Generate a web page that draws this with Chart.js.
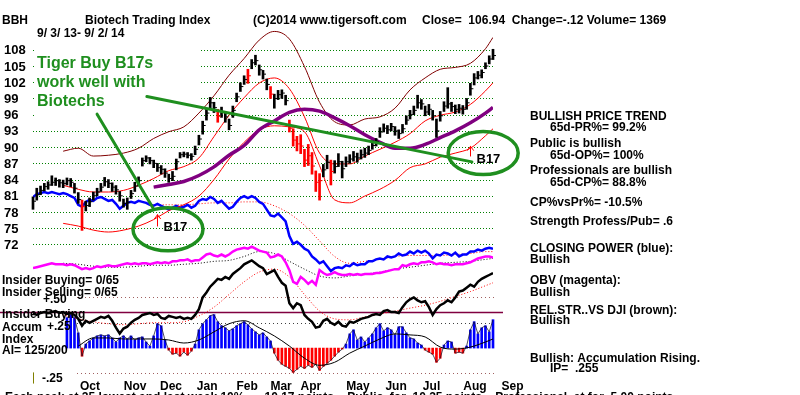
<!DOCTYPE html>
<html><head><meta charset="utf-8">
<script src="https://cdn.jsdelivr.net/npm/chart.js@4.4.0/dist/chart.umd.min.js"></script>
<style>html,body{margin:0;padding:0;background:#fff;overflow:hidden}canvas{display:block}</style>
</head><body>
<canvas id="c" width="800" height="395"></canvas>
<script>
// ---------- DATA ----------
const priceTicks = [72,75,78,81,84,87,90,93,96,99,102,105,108];
const monthLabels = ['Oct','Nov','Dec','Jan','Feb','Mar','Apr','May','Jun','Jul','Aug','Sep'];
const monthIdx = [15.1,27.1,36.6,46.2,56.8,65.8,73.7,86.2,96.3,105.7,117.2,127.2];

const closes = [80.0,81.2,82.0,82.7,83.0,83.5,83.8,83.4,83.3,83.8,
 83.5,82.4,80.3,79.0,79.2,79.9,81.0,81.7,82.6,83.6,
 83.3,82.6,82.1,81.0,79.6,79.8,81.4,82.8,83.8,87.5,
 88.0,87.5,87.0,86.2,85.9,85.2,84.2,84.6,87.3,88.6,
 88.7,88.5,88.3,89.6,91.5,94.0,96.3,98.2,97.3,95.7,
 96.4,95.6,94.0,96.8,99.3,101.2,102.5,103.2,105.6,106.0,
 104.3,103.5,101.6,99.8,99.0,99.7,100.0,98.6,93.5,91.3,
 90.6,90.2,87.6,88.4,86.5,83.5,83.8,85.8,87.2,85.5,
 86.4,87.3,86.0,87.3,87.8,88.2,88.0,88.6,88.9,89.4,
 90.3,91.0,92.8,93.5,93.2,93.8,93.0,92.5,93.4,95.0,
 96.0,96.8,98.2,98.0,96.5,97.0,95.8,93.0,95.8,97.6,
 98.0,97.5,97.0,97.2,97.0,98.2,100.8,102.8,103.3,103.8,
 105.0,106.3,106.94];
const highs = [80.8,82.4,82.8,83.3,83.6,84.7,84.3,84.0,83.9,84.3,
 84.2,83.3,81.6,80.2,80.0,80.6,81.7,82.4,83.3,84.4,
 84.0,83.4,82.9,81.8,80.4,80.6,82.0,83.5,84.5,88.0,
 88.4,88.1,87.6,87.0,86.6,86.0,85.0,85.5,87.8,89.0,
 89.1,89.0,88.8,90.2,92.2,94.8,97.0,99.2,98.3,97.0,
 97.4,96.6,95.2,97.6,100.0,101.9,103.2,104.4,106.2,107.0,
 105.2,104.2,102.6,101.2,99.8,100.5,100.6,99.6,95.0,93.4,
 92.0,92.3,89.6,90.5,89.0,85.6,85.1,86.8,88.5,87.6,
 87.5,88.8,87.4,88.2,88.6,89.2,88.9,89.5,89.8,90.2,
 91.2,91.6,93.6,94.3,94.0,94.4,93.8,93.2,94.2,95.8,
 96.8,97.6,99.6,98.8,97.6,97.9,96.8,95.2,96.6,98.4,
 101.0,98.3,97.8,97.9,97.7,99.0,101.8,103.6,104.0,104.3,
 105.6,106.9,108.1];
const lows = [78.5,80.2,81.2,81.9,82.2,82.9,82.9,82.6,82.5,83.0,
 82.7,81.5,79.6,74.6,78.2,79.0,80.2,81.0,81.8,82.8,
 82.5,81.8,81.3,80.0,78.9,78.5,80.5,81.8,82.8,86.5,
 87.3,86.9,86.2,85.5,85.0,84.4,83.5,83.8,85.8,88.0,
 88.2,88.0,87.6,88.6,90.4,92.4,95.0,97.0,96.4,94.6,
 95.5,94.6,93.2,95.5,98.4,100.3,101.6,101.8,104.5,105.2,
 103.3,102.6,100.6,99.0,97.2,98.8,99.0,97.8,92.8,90.2,
 89.3,88.8,86.4,86.6,85.0,81.8,80.2,84.5,86.0,83.0,
 85.2,86.4,84.3,86.4,87.0,87.4,87.2,87.8,88.1,88.6,
 89.6,90.2,91.8,92.8,92.5,93.0,92.2,91.6,92.6,94.2,
 95.2,96.0,97.2,97.0,95.8,96.0,95.0,91.8,94.8,96.6,
 97.2,96.6,96.2,96.3,96.1,97.0,99.6,101.5,102.6,102.8,
 104.5,105.4,106.2];
const redDays = [13,49,57,63,68,69,70,71,72,73,74,75,76,79];

const closingPower = [51.5,53,53.5,54,53.5,54,53.5,53,53.5,53,
 52,51,47.5,46.5,49,50,49.5,51,51.5,50.5,
 49.5,50,48,45.5,47,48.5,49,48.5,49.5,49,
 48.5,47.5,47,48,47,46,45,46,47,46,
 46.5,47.5,46,47,49.5,50.5,50,51.5,50.5,48.5,
 49.5,47.5,45.5,46.5,49,51,52,51,52,51,
 49,48,45,42,41.5,43,41,39,31.5,27.5,
 28.5,27,25,24,21,19.5,17.5,18.5,16,13.5,
 15,15.5,15,16.5,16,17.5,16.5,17,17,18.5,
 18.5,19.5,20,19.5,21,20.5,21,22.5,21.5,22,
 23.5,22.5,24,23,24,22.5,20,22,21.5,23,
 22.5,21.5,23,21,22,22,23.5,23.5,24.5,24,
 25,25.5,25];
const obv = [600,620,640,660,680,700,680,680,680,660,
 680,660,620,580,600,580,600,640,620,640,
 660,640,640,660,680,700,680,700,680,700,
 700,680,700,720,700,720,700,740,740,760,
 760,780,740,760,760,820,880,900,860,840,
 880,840,880,940,980,1000,1020,1000,1040,1000,
 960,940,920,820,840,880,840,720,560,320,
 280,420,360,280,340,260,560,500,460,480,
 520,480,460,460,480,460,480,460,480,480,
 480,500,500,520,540,560,580,580,660,640,
 680,700,680,720,720,740,720,680,700,680,
 680,660,680,680,680,700,720,760,800,820,
 840,840,820];
const relStrength = [0.99,0.97,0.99,1.00,0.99,1.00,1.01,0.99,1.00,0.98,
 0.99,0.97,0.93,0.86,0.91,0.89,0.91,0.93,0.95,0.94,
 0.96,0.91,0.84,0.78,0.83,0.85,0.89,0.92,0.94,0.97,
 0.98,0.99,0.97,0.98,0.94,0.93,0.96,0.95,0.94,0.95,
 0.93,0.94,0.93,0.97,1.03,1.15,1.20,1.26,1.30,1.34,
 1.33,1.36,1.34,1.39,1.42,1.45,1.49,1.51,1.53,1.50,
 1.47,1.45,1.39,1.41,1.43,1.36,1.30,1.27,1.09,1.04,
 1.09,1.07,0.97,0.93,0.90,0.84,0.85,0.91,0.93,0.89,
 0.87,0.90,0.86,0.85,0.90,0.89,0.91,0.93,0.94,0.95,
 0.97,0.98,0.97,1.01,1.02,1.00,1.00,0.99,1.05,1.10,
 1.13,1.15,1.12,1.10,1.11,1.05,0.97,1.03,1.07,1.09,
 1.12,1.10,1.15,1.21,1.22,1.25,1.28,1.26,1.31,1.34,
 1.36,1.38,1.40];
const accumIndex = [null,null,null,null,null,null,null,null,null,0.30,
 0.33,0.30,0.15,-0.08,0.04,0.07,0.10,0.12,0.13,0.12,
 0.13,0.10,0.06,0.10,0.12,0.09,0.12,0.08,0.10,0.11,
 0.06,0.02,0.12,0.24,0.22,0.08,-0.02,-0.06,-0.05,-0.08,
 -0.04,-0.07,-0.03,0.04,0.18,0.24,0.28,0.32,0.33,0.26,
 0.22,0.20,0.17,0.19,0.22,0.24,0.26,0.23,0.19,0.16,
 0.13,0.15,0.11,0.07,-0.05,-0.12,-0.16,-0.18,-0.20,-0.24,
 -0.21,-0.18,-0.20,-0.17,-0.19,-0.16,-0.22,-0.18,-0.15,-0.12,
 -0.08,-0.04,-0.01,0.04,0.14,0.18,0.08,0.11,0.06,0.10,
 0.14,0.20,0.24,0.17,0.20,0.18,0.13,0.21,0.21,0.15,
 0.10,0.09,0.05,0.03,-0.02,-0.04,-0.06,-0.14,-0.10,0.03,
 0.07,0.06,-0.05,-0.04,-0.05,0.02,0.18,0.26,0.14,0.20,
 0.22,0.16,0.28];

// smooth averages, read at these trading-day indices
const sampleIdx = [0,4,8,12,16,20,24,28,32,36,40,44,48,52,56,60,64,68,72,76,80,84,88,92,96,100,104,108,112,116,120,122];
const upperBand = [null,null,89.25,89.8,88.35,88.5,88.9,89.8,91.6,92.85,93.75,96.3,99.5,103.3,106.4,109.8,111.4,110.0,104.9,98.3,94.7,94.1,95.2,95.6,97.2,100.6,102.8,104.4,104.75,105.5,108.2,110.3];
const lowerBand = [null,null,75.9,75.4,74.65,74.3,74.65,75.4,76.6,78.25,79.35,80.95,84.0,87.8,90.9,93.2,93.95,93.75,92.85,86.55,80.25,79.7,80.95,82.2,83.85,86.2,86.9,88.15,88.9,89.8,92.1,93.4];
const ma21 = [null,null,82.95,82.2,81.7,81.7,82.0,82.95,84.2,85.65,86.4,88.0,91.95,95.9,99.15,101.85,102.8,100.8,95.6,88.9,86.9,86.9,88.35,89.6,90.9,92.5,94.85,95.9,96.5,97.9,100.4,101.9];
const ma65 = [null,null,null,null,null,null,null,null,82.6,83.1,83.65,84.75,86.35,88.5,90.3,93.2,94.85,96.45,97.0,96.65,95.4,93.95,92.3,90.9,89.8,89.8,90.5,91.75,93.0,94.5,96.3,97.35];
const cpMA = [null,null,null,null,null,null,null,null,47.5,47.5,47.5,48,48.5,48.5,49,49,47,43,37,29,21,17.5,18.5,19.5,21,21.5,21.5,21.5,22,22.5,23.5,23.5];
const obvMA = [null,null,700,680,640,620,620,640,660,660,680,700,740,760,840,940,900,740,580,440,400,440,480,520,580,620,660,700,720,740,780,800];
const rsMA = [null,null,0.97,0.93,0.90,0.88,0.87,0.88,0.89,0.89,0.90,0.96,1.05,1.18,1.31,1.41,1.44,1.36,1.18,1.01,0.93,0.92,0.95,0.98,1.01,1.04,1.07,1.11,1.16,1.21,1.27,1.30];
const aiMA = [null,null,null,0.02,0.10,0.10,0.09,0.09,0.09,0.08,0.05,0.08,0.16,0.24,0.27,0.20,0.12,0.02,-0.10,-0.17,-0.14,-0.05,0.02,0.09,0.14,0.13,0.11,0.01,-0.01,0.01,0.06,0.09];

// B17 buy signals (trading-day index, arrow prices)
const signals = [
  {name:'B17', idx:33, arrowLow:75.4, arrowHigh:77.5, labelPrice:75.2, ringIdx:35.8, ringPrice:74.8},
  {name:'B17', idx:116, arrowLow:88.35, arrowHigh:90.15, labelPrice:87.8, ringIdx:119.4, ringPrice:88.9}
];
// green annotation lines (index, price)
const trendLines = [
  {from:[30.2,99.35], to:[116.4,87.27]},
  {from:[17.0,96.1], to:[31.8,78.8]}
];

// ---------- CHART ----------
const FONT = '"Liberation Sans", Arial, sans-serif';
const lens = [closes,highs,lows,closingPower,obv,relStrength,accumIndex].map(a=>a.length);
const smoothLens = [upperBand,lowerBand,ma21,ma65,cpMA,obvMA,rsMA,aiMA].map(a=>a.length);
const pts = vals => vals.map((v,i)=>({x:i,y:v}));
const spts = vals => sampleIdx.map((ix,k)=>({x:ix,y:vals[k]}));
const isRed = i => redDays.includes(i);
const lineDs = (label, data, axis, color, width, order, extra) => Object.assign({
  type:'line', label, data, yAxisID:axis, borderColor:color, borderWidth:width,
  pointRadius:0, tension:0, fill:false, order, spanGaps:true
}, extra||{});

const overlay = {
  id:'overlay',
  beforeDatasetsDraw(chart){
    const ctx = chart.ctx, a = chart.chartArea, s = chart.scales;
    ctx.save();
    // price grid
    ctx.strokeStyle = '#008000'; ctx.lineWidth = 1; ctx.setLineDash([1,2]);
    priceTicks.forEach(t=>{
      const y = Math.round(s.yP.getPixelForValue(t))+0.5;
      ctx.beginPath(); ctx.moveTo(a.left, y); ctx.lineTo(a.right+2, y); ctx.stroke();
    });
    // indicator reference lines
    const hline = (axis, v, color, x0, x1, dash, w)=>{
      const y = Math.round(s[axis].getPixelForValue(v))+0.5;
      ctx.strokeStyle=color; ctx.lineWidth=w||1; ctx.setLineDash(dash);
      ctx.beginPath(); ctx.moveTo(x0,y); ctx.lineTo(x1,y); ctx.stroke();
    };
    hline('yAI', 0.5, '#a06060', a.left+44, a.right+4, [1,3]);
    hline('yAI', 0.25, '#404040', a.left+44, a.right+2, [1,3]);
    hline('yAI', -0.25, '#a06060', a.left+44, a.right+4, [1,3]);
    hline('yRS', 1.0, '#800040', 0, a.right+10, [], 1.5);
    ctx.setLineDash([]);
    // start marker
    const x0 = Math.round(s.x.getPixelForValue(0))+0.5;
    ctx.strokeStyle = '#808000'; ctx.lineWidth = 1;
    ctx.beginPath(); ctx.moveTo(x0, s.yAI.getPixelForValue(-0.24)); ctx.lineTo(x0, s.yAI.getPixelForValue(-0.35)); ctx.stroke();
    // white panel behind the annotation text
    ctx.fillStyle = '#fff';
    ctx.fillRect(a.left+3, 50, 164, 66);
    ctx.restore();
  },
  afterDatasetsDraw(chart){
    const ctx = chart.ctx, a = chart.chartArea, s = chart.scales;
    const X = v => s.x.getPixelForValue(v), Y = v => s.yP.getPixelForValue(v);
    ctx.save();
    const green = '#1f8f1f';
    // trend lines
    ctx.strokeStyle = green; ctx.lineWidth = 3; ctx.lineCap='round';
    trendLines.forEach(l=>{
      ctx.beginPath(); ctx.moveTo(X(l.from[0]), Y(l.from[1])); ctx.lineTo(X(l.to[0]), Y(l.to[1])); ctx.stroke();
    });
    // signals
    signals.forEach(sg=>{
      const ax = Math.round(X(sg.idx))+0.5;
      ctx.strokeStyle = green; ctx.lineWidth = 3.5;
      ctx.beginPath(); ctx.ellipse(X(sg.ringIdx), Y(sg.ringPrice), 35, 21.5, 0, 0, Math.PI*2); ctx.stroke();
      ctx.strokeStyle = '#ff0000'; ctx.lineWidth = 1;
      const y0 = Y(sg.arrowLow), y1 = Y(sg.arrowHigh);
      ctx.beginPath(); ctx.moveTo(ax, y0); ctx.lineTo(ax, y1);
      ctx.moveTo(ax-3, y1+4); ctx.lineTo(ax, y1); ctx.lineTo(ax+3, y1+4); ctx.stroke();
      ctx.fillStyle = '#000'; ctx.font = 'bold 13px '+FONT; ctx.textBaseline='middle'; ctx.textAlign='left';
      ctx.fillText(sg.name, ax+6, Y(sg.labelPrice));
    });
    ctx.restore();
  },
  afterDraw(chart){
    const ctx = chart.ctx, s = chart.scales;
    ctx.save();
    ctx.textBaseline = 'middle'; ctx.textAlign = 'left';
    const T = (t,x,y,f,c)=>{ ctx.font = f||('bold 12px '+FONT); ctx.fillStyle = c||'#000'; ctx.fillText(t,x,y); };
    // price tick labels
    priceTicks.forEach(t=> T(String(t), 4, s.yP.getPixelForValue(t)+1, 'bold 13px '+FONT));
    // month labels
    ctx.textAlign='center';
    monthLabels.forEach((m,k)=> T(m, s.x.getPixelForValue(monthIdx[k]), 387));
    ctx.textAlign='left';
    // header
    T('BBH', 2, 21);
    T('Biotech Trading Index', 85, 21);
    T('(C)2014 www.tigersoft.com', 253, 21);
    T('Close=  106.94  Change=-.12 Volume= 1369', 422, 21);
    T('9/ 3/ 13- 9/ 2/ 14', 37, 34);
    // green annotation
    const gf = 'bold 16px '+FONT, g = '#1f8f1f';
    ctx.textBaseline='alphabetic';
    T('Tiger Buy B17s', 37, 68, gf, g);
    T('work well with', 37, 87, gf, g);
    T('Biotechs', 37, 106, gf, g);
    // footer line (cut by the picture's bottom edge)
    T('Each peak at 25 lowest and last week 10%      10.17 points    Public  for  10.25 points    Professional  at for  5.00 points', 5, 401);
    ctx.textBaseline='middle';
    // right panel
    T('BULLISH PRICE TREND', 530, 117);
    T('65d-PR%= 99.2%', 550, 127.5);
    T('Public is bullish', 530, 144);
    T('65d-OP%= 100%', 550, 156);
    T('Professionals are bullish', 530, 171);
    T('65d-CP%= 88.8%', 550, 183);
    T('CP%vsPr%= -10.5%', 530, 203);
    T('Strength Profess/Pub= .6', 530, 221.5);
    T('CLOSING POWER (blue):', 530, 249);
    T('Bullish', 530, 260);
    T('OBV (magenta):', 530, 281);
    T('Bullish', 530, 292.5);
    T('REL.STR..VS DJI (brown):', 530, 310.5);
    T('Bullish', 530, 321);
    T('Bullish: Accumulation Rising.', 530, 359);
    T('IP=  .255', 550, 368.5);
    // lower-left labels
    T('Insider Buying= 0/65', 2, 281);
    T('Insider Selling= 0/65', 2, 293);
    T('+.50', 43, 300);
    T('Insider Buying', 2, 315);
    T('Accum', 2, 328);
    T('+.25', 47, 327);
    T('Index', 2, 340);
    T('AI= 125/200', 2, 351);
    T('-.25', 42, 379);
    if (lens.some(l=>l!==closes.length) || smoothLens.some(l=>l!==sampleIdx.length)) {
      T('LEN MISMATCH '+lens.join(',')+' / '+smoothLens.join(','), 300, 10, 'bold 12px '+FONT, '#f00');
    }
    ctx.restore();
  }
};

new Chart(document.getElementById('c'), {
  type:'bar',
  data:{datasets:[
    {type:'scatter', data:pts(closes), yAxisID:'yP', pointStyle:'dash', pointRadius:3, pointBorderWidth:1,
     pointBorderColor: closes.map((_,i)=>isRed(i)?'#ff0000':'#000'), order:0, clip:false},
    {type:'bar', data:closes.map((_,i)=>({x:i, y:[lows[i],highs[i]]})), yAxisID:'yP', barThickness:2,
     backgroundColor: closes.map((_,i)=>isRed(i)?'#ff0000':'#000'), order:1, clip:false, grouped:false},
    lineDs('ma65', spts(ma65), 'yP', '#800080', 3.5, 2, {cubicInterpolationMode:'monotone'}),
    lineDs('ma21', spts(ma21), 'yP', '#ff0000', 1, 3, {cubicInterpolationMode:'monotone'}),
    lineDs('upper', spts(upperBand), 'yP', '#800000', 1, 3, {cubicInterpolationMode:'monotone'}),
    lineDs('lower', spts(lowerBand), 'yP', '#ff0000', 1, 3, {cubicInterpolationMode:'monotone'}),
    lineDs('rs', pts(relStrength), 'yRS', '#000000', 2.5, 4),
    lineDs('cp', pts(closingPower), 'yCP', '#0000ff', 2.5, 5),
    lineDs('obv', pts(obv), 'yOBV', '#ff00ff', 2.5, 6),
    lineDs('cpMA', spts(cpMA), 'yCP', '#ff0000', 1, 8, {borderDash:[1,2], cubicInterpolationMode:'monotone'}),
    lineDs('obvMA', spts(obvMA), 'yOBV', '#000000', 1, 9, {borderDash:[1,2], cubicInterpolationMode:'monotone'}),
    lineDs('rsMA', spts(rsMA), 'yRS', '#ff0000', 1, 10, {borderDash:[1,2], cubicInterpolationMode:'monotone'}),
    lineDs('aiMA', spts(aiMA), 'yAI', '#000000', 1, 11, {cubicInterpolationMode:'monotone'}),
    lineDs('aiOutline', pts(accumIndex), 'yAI', 'rgba(20,20,40,0.75)', 1, 12, {spanGaps:false}),
    {type:'bar', data:pts(accumIndex), yAxisID:'yAI', barThickness:2, grouped:false,
     backgroundColor: accumIndex.map(v=> v!==null && v<0 ? '#ff0000' : '#0000ff'), order:13, clip:false}
  ]},
  options:{
    responsive:false, animation:false, devicePixelRatio:1,
    layout:{padding:{left:33, right:307, top:0, bottom:0}},
    plugins:{legend:{display:false}, tooltip:{enabled:false}},
    scales:{
      x:{type:'linear', min:0, max:closes.length-1, display:false, offset:false},
      yP:{type:'linear', min:45.08, max:116.29, display:false},
      yCP:{type:'linear', min:-47.5, max:150, display:false},
      yOBV:{type:'linear', min:-1900, max:6000, display:false},
      yRS:{type:'linear', min:0.2, max:4.15, display:false},
      yAI:{type:'linear', min:-0.4135, max:3.3846, display:false}
    }
  },
  plugins:[overlay]
});
</script>
</body></html>
